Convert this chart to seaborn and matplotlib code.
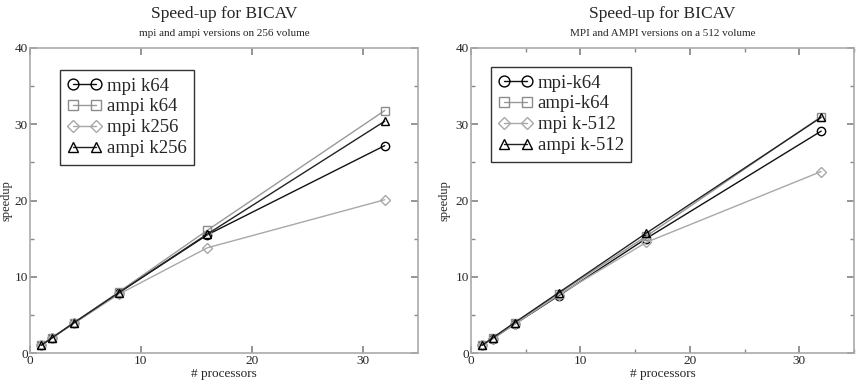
import matplotlib
matplotlib.use("Agg")
import matplotlib.pyplot as plt
import seaborn as sns
import pandas as pd
from matplotlib.ticker import MultipleLocator

sns.set_theme(style="white")
plt.rcParams['font.family'] = ['Liberation Serif', 'DejaVu Serif']
plt.rcParams['mathtext.fontset'] = 'stix'

processors = [1, 2, 4, 8, 16, 32]

# Left panel (256 volume)
left_labels = ["mpi k64", "ampi k64", "mpi k256", "ampi k256"]
left_mpi_k64 = [1.0, 2.0, 4.0, 7.9, 15.5, 27.2]
left_ampi_k64 = [1.0, 2.0, 4.0, 8.0, 16.1, 31.8]
left_mpi_k256 = [1.0, 2.0, 3.9, 7.7, 13.8, 20.1]
left_ampi_k256 = [1.0, 2.0, 4.0, 7.9, 15.6, 30.4]

# Right panel (512 volume)
right_labels = ["mpi-k64", "ampi-k64", "mpi k-512", "ampi k-512"]
right_mpi_k64 = [1.0, 1.9, 3.8, 7.5, 15.0, 29.1]
right_ampi_k64 = [1.0, 2.0, 3.9, 7.8, 15.3, 31.0]
right_mpi_k512 = [1.0, 1.9, 3.8, 7.6, 14.5, 23.8]
right_ampi_k512 = [1.0, 2.0, 4.0, 7.9, 15.7, 30.9]

titles = ["Speed-up for BICAV", "Speed-up for BICAV"]
subtitles = ["mpi and ampi versions on 256 volume", "MPI and AMPI versions on a 512 volume"]

colors = ["#000000", "#8c8c8c", "#a8a8a8", "#000000"]
line_colors = ["#111111", "#999999", "#a8a8a8", "#222222"]
markers = ["o", "s", "D", "^"]
msizes = [6, 6, 5, 6]

fig = plt.figure(figsize=(8.56, 3.84), dpi=100)
ax1 = fig.add_axes([30/856, 1-353/384, 388/856, 305/384])
ax2 = fig.add_axes([471/856, 1-353/384, 383/856, 305/384])

panels = [
    (ax1, left_labels, [left_mpi_k64, left_ampi_k64, left_mpi_k256, left_ampi_k256], False,
     (0.077, 0.928), -0.060),
    (ax2, right_labels, [right_mpi_k64, right_ampi_k64, right_mpi_k512, right_ampi_k512], True,
     (0.052, 0.938), -0.070),
]

for i, (ax, labels, series, minor_x, anchor, ylab_x) in enumerate(panels):
    for lab, vals, c, lc, m, ms in zip(labels, series, colors, line_colors, markers, msizes):
        df = pd.DataFrame({"p": processors, "s": vals})
        sns.lineplot(data=df, x="p", y="s", ax=ax, label=lab, color=lc, lw=1.0,
                     marker=m, markersize=ms, markerfacecolor="none",
                     markeredgecolor=c, markeredgewidth=1.0)
    ax.set_xlim(0, 35)
    ax.set_ylim(0, 40)
    ax.xaxis.set_major_locator(MultipleLocator(10))
    ax.yaxis.set_major_locator(MultipleLocator(10))
    ax.yaxis.set_minor_locator(MultipleLocator(5))
    if minor_x:
        ax.xaxis.set_minor_locator(MultipleLocator(5))
    ax.tick_params(which="both", direction="in", top=True, right=True,
                   bottom=True, left=True, color="#888888")
    ax.tick_params(which="major", length=5, labelsize=9.5, pad=1.5)
    ax.tick_params(which="minor", length=3)
    for sp in ax.spines.values():
        sp.set_color("#aaaaaa")
        sp.set_linewidth(1.2)
    ax.set_xlabel("# processors", fontsize=9.5, labelpad=1)
    ax.set_ylabel("speedup", fontsize=9, va="center")
    ax.yaxis.set_label_coords(ylab_x, 0.5)
    ax.text(0.5, 1.112, titles[i], transform=ax.transAxes, ha="center", va="center", fontsize=12.5)
    ax.text(0.5, 1.049, subtitles[i], transform=ax.transAxes, ha="center", va="center", fontsize=8)
    leg = ax.legend(loc="upper left", bbox_to_anchor=anchor, borderaxespad=0,
                    fontsize=13.5, numpoints=2, handlelength=1.8, handletextpad=0.3,
                    labelspacing=0.2, borderpad=0.4, fancybox=False, framealpha=1,
                    markerscale=1.3)
    leg.get_frame().set_edgecolor("#333333")
    leg.get_frame().set_linewidth(1.0)

fig.savefig("out.png", dpi=100)
